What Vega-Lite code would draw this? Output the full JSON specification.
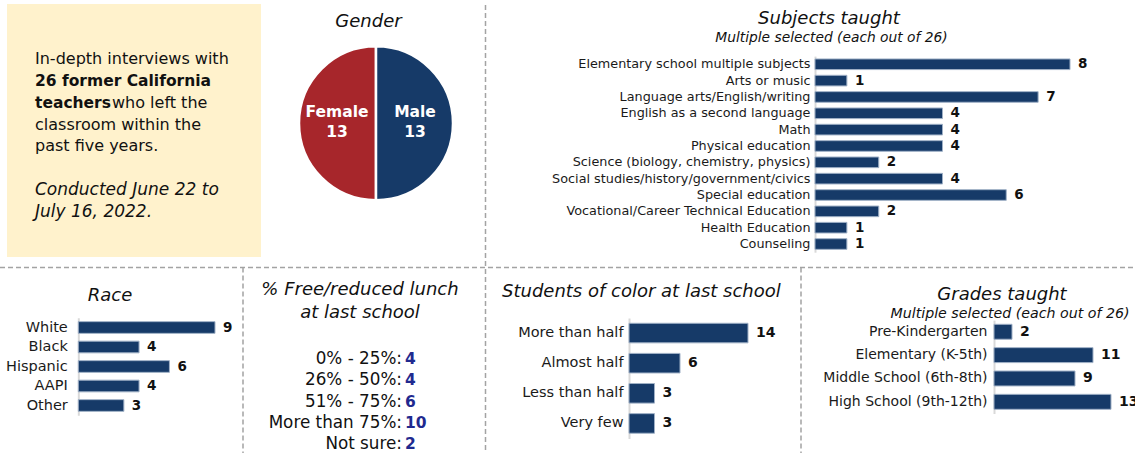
{
"$schema": "https://vega.github.io/schema/vega-lite/v6.json",
"width": 1135, "height": 453, "autosize": "none", "padding": 0, "background": "#ffffff",
"config": {"view": {"stroke": null}, "font": "DejaVu Sans"},
"resolve": {"scale": {"x": "independent", "y": "independent"}},
"layer": [
 {
  "data": {"values": [{}]},
  "layer": [
   {"mark": {"type": "rect", "fill": "#fff2cc"},
    "encoding": {"x": {"datum": 7, "scale": {"domain": [0, 1135], "range": [0, 1135], "nice": false, "zero": false}, "axis": null}, "x2": {"datum": 261},
                 "y": {"datum": 4, "scale": {"domain": [0, 453], "range": [0, 453], "nice": false, "zero": false}, "axis": null}, "y2": {"datum": 257}}},
   {"mark": {"type": "rule", "color": "#a3a3a3", "strokeDash": [5, 3], "strokeWidth": 1.5},
    "encoding": {"x": {"datum": 485.5, "scale": {"domain": [0, 1135], "range": [0, 1135], "nice": false, "zero": false}, "axis": null},
                 "y": {"datum": 5, "scale": {"domain": [0, 453], "range": [0, 453], "nice": false, "zero": false}, "axis": null}, "y2": {"datum": 453}}},
   {"mark": {"type": "rule", "color": "#a3a3a3", "strokeDash": [5, 3], "strokeWidth": 1.5},
    "encoding": {"x": {"datum": 0, "scale": {"domain": [0, 1135], "range": [0, 1135], "nice": false, "zero": false}, "axis": null}, "x2": {"datum": 1135},
                 "y": {"datum": 267.5, "scale": {"domain": [0, 453], "range": [0, 453], "nice": false, "zero": false}, "axis": null}}},
   {"mark": {"type": "rule", "color": "#a3a3a3", "strokeDash": [5, 3], "strokeWidth": 1.5},
    "encoding": {"x": {"datum": 243, "scale": {"domain": [0, 1135], "range": [0, 1135], "nice": false, "zero": false}, "axis": null},
                 "y": {"datum": 267.5, "scale": {"domain": [0, 453], "range": [0, 453], "nice": false, "zero": false}, "axis": null}, "y2": {"datum": 453}}},
   {"mark": {"type": "rule", "color": "#a3a3a3", "strokeDash": [5, 3], "strokeWidth": 1.5},
    "encoding": {"x": {"datum": 801, "scale": {"domain": [0, 1135], "range": [0, 1135], "nice": false, "zero": false}, "axis": null},
                 "y": {"datum": 267.5, "scale": {"domain": [0, 453], "range": [0, 453], "nice": false, "zero": false}, "axis": null}, "y2": {"datum": 453}}},
   {"mark": {"type": "text", "text": "Gender", "fontSize": 18, "fontStyle": "italic", "align": "center", "baseline": "alphabetic", "color": "#111111"},
    "encoding": {"x": {"datum": 368.5, "scale": {"domain": [0, 1135], "range": [0, 1135], "nice": false, "zero": false}, "axis": null},
                 "y": {"datum": 27.3, "scale": {"domain": [0, 453], "range": [0, 453], "nice": false, "zero": false}, "axis": null}}},
   {"mark": {"type": "text", "text": "Subjects taught", "fontSize": 18, "fontStyle": "italic", "align": "center", "baseline": "alphabetic", "color": "#111111"},
    "encoding": {"x": {"datum": 829, "scale": {"domain": [0, 1135], "range": [0, 1135], "nice": false, "zero": false}, "axis": null},
                 "y": {"datum": 24, "scale": {"domain": [0, 453], "range": [0, 453], "nice": false, "zero": false}, "axis": null}}},
   {"mark": {"type": "text", "text": "Multiple selected (each out of 26)", "fontSize": 13.8, "fontStyle": "italic", "align": "center", "baseline": "alphabetic", "color": "#111111"},
    "encoding": {"x": {"datum": 831.5, "scale": {"domain": [0, 1135], "range": [0, 1135], "nice": false, "zero": false}, "axis": null},
                 "y": {"datum": 41.5, "scale": {"domain": [0, 453], "range": [0, 453], "nice": false, "zero": false}, "axis": null}}},
   {"mark": {"type": "text", "text": "Race", "fontSize": 18, "fontStyle": "italic", "align": "center", "baseline": "alphabetic", "color": "#111111"},
    "encoding": {"x": {"datum": 110, "scale": {"domain": [0, 1135], "range": [0, 1135], "nice": false, "zero": false}, "axis": null},
                 "y": {"datum": 301, "scale": {"domain": [0, 453], "range": [0, 453], "nice": false, "zero": false}, "axis": null}}},
   {"mark": {"type": "text", "text": ["% Free/reduced lunch", "at last school"], "lineHeight": 23.3, "fontSize": 18, "fontStyle": "italic", "align": "center", "baseline": "alphabetic", "color": "#111111"},
    "encoding": {"x": {"datum": 360, "scale": {"domain": [0, 1135], "range": [0, 1135], "nice": false, "zero": false}, "axis": null},
                 "y": {"datum": 295, "scale": {"domain": [0, 453], "range": [0, 453], "nice": false, "zero": false}, "axis": null}}},
   {"mark": {"type": "text", "text": "Students of color at last school", "fontSize": 18, "fontStyle": "italic", "align": "center", "baseline": "alphabetic", "color": "#111111"},
    "encoding": {"x": {"datum": 641.4, "scale": {"domain": [0, 1135], "range": [0, 1135], "nice": false, "zero": false}, "axis": null},
                 "y": {"datum": 297, "scale": {"domain": [0, 453], "range": [0, 453], "nice": false, "zero": false}, "axis": null}}},
   {"mark": {"type": "text", "text": "Grades taught", "fontSize": 18, "fontStyle": "italic", "align": "center", "baseline": "alphabetic", "color": "#111111"},
    "encoding": {"x": {"datum": 1002, "scale": {"domain": [0, 1135], "range": [0, 1135], "nice": false, "zero": false}, "axis": null},
                 "y": {"datum": 300, "scale": {"domain": [0, 453], "range": [0, 453], "nice": false, "zero": false}, "axis": null}}},
   {"mark": {"type": "text", "text": "Multiple selected (each out of 26)", "fontSize": 14.2, "fontStyle": "italic", "align": "center", "baseline": "alphabetic", "color": "#111111"},
    "encoding": {"x": {"datum": 1010, "scale": {"domain": [0, 1135], "range": [0, 1135], "nice": false, "zero": false}, "axis": null},
                 "y": {"datum": 318.3, "scale": {"domain": [0, 453], "range": [0, 453], "nice": false, "zero": false}, "axis": null}}},
   {
    "data": {"values": [{"gender": "Female", "count": 13}, {"gender": "Male", "count": 13}]},
    "encoding": {
     "theta": {"field": "count", "type": "quantitative", "stack": true},
     "order": {"field": "gender", "sort": "descending"},
     "x": {"datum": 376, "scale": {"domain": [0, 1135], "range": [0, 1135], "nice": false, "zero": false}, "axis": null},
     "y": {"datum": 123.3, "scale": {"domain": [0, 453], "range": [0, 453], "nice": false, "zero": false}, "axis": null}
    },
    "layer": [
     {"mark": {"type": "arc", "outerRadius": 77, "stroke": "#ffffff", "strokeWidth": 2.5},
      "encoding": {"color": {"field": "gender", "type": "nominal", "scale": {"domain": ["Female", "Male"], "range": ["#a7262b", "#163a68"]}, "legend": null}}},
     {"mark": {"type": "text", "radius": 39, "dy": -6, "fontSize": 15.5, "fontWeight": "bold", "color": "#ffffff", "align": "center", "baseline": "alphabetic"},
      "encoding": {"text": {"field": "gender"}}},
     {"mark": {"type": "text", "radius": 39, "dy": 14, "fontSize": 15.5, "fontWeight": "bold", "color": "#ffffff", "align": "center", "baseline": "alphabetic"},
      "encoding": {"text": {"field": "count"}}}
    ]
   }
  ]
 },
 {
  "layer": [
   {"data": {"values": [{"line": 1, "text": "In-depth interviews with"}, {"line": 4, "text": "classroom within the"}, {"line": 5, "text": "past five years."}]},
    "mark": {"type": "text", "fontSize": 16, "align": "left", "baseline": "alphabetic", "color": "#111111"},
    "encoding": {"x": {"datum": 35, "scale": {"domain": [0, 1135], "range": [0, 1135], "nice": false, "zero": false}, "axis": null},
                 "y": {"field": "line", "type": "quantitative", "scale": {"domain": [1, 8], "range": [64, 217], "nice": false, "zero": false}, "axis": null},
                 "text": {"field": "text"}}},
   {"data": {"values": [{"line": 2, "text": "26 former California"}, {"line": 3, "text": "teachers"}]},
    "mark": {"type": "text", "fontSize": 15.5, "fontWeight": "bold", "align": "left", "baseline": "alphabetic", "color": "#111111"},
    "encoding": {"x": {"datum": 35, "scale": {"domain": [0, 1135], "range": [0, 1135], "nice": false, "zero": false}, "axis": null},
                 "y": {"field": "line", "type": "quantitative", "scale": {"domain": [1, 8], "range": [64, 217], "nice": false, "zero": false}, "axis": null},
                 "text": {"field": "text"}}},
   {"data": {"values": [{"line": 3, "text": "who left the"}]},
    "mark": {"type": "text", "fontSize": 16, "align": "left", "baseline": "alphabetic", "color": "#111111"},
    "encoding": {"x": {"datum": 112, "scale": {"domain": [0, 1135], "range": [0, 1135], "nice": false, "zero": false}, "axis": null},
                 "y": {"field": "line", "type": "quantitative", "scale": {"domain": [1, 8], "range": [64, 217], "nice": false, "zero": false}, "axis": null},
                 "text": {"field": "text"}}},
   {"data": {"values": [{"line": 7, "text": "Conducted June 22 to"}, {"line": 8, "text": "July 16, 2022."}]},
    "mark": {"type": "text", "fontSize": 17, "fontStyle": "italic", "align": "left", "baseline": "alphabetic", "color": "#111111"},
    "encoding": {"x": {"datum": 35, "scale": {"domain": [0, 1135], "range": [0, 1135], "nice": false, "zero": false}, "axis": null},
                 "y": {"field": "line", "type": "quantitative", "scale": {"domain": [1, 8], "range": [64, 217], "nice": false, "zero": false}, "axis": null},
                 "text": {"field": "text"}}}
  ]
 },
 {
  "data": {"values": [
   {"bracket": "0% - 25%:", "count": 4},
   {"bracket": "26% - 50%:", "count": 4},
   {"bracket": "51% - 75%:", "count": 6},
   {"bracket": "More than 75%:", "count": 10},
   {"bracket": "Not sure:", "count": 2}
  ]},
  "encoding": {
   "x": {"datum": 403, "scale": {"domain": [0, 1135], "range": [0, 1135], "nice": false, "zero": false}, "axis": null},
   "y": {"field": "bracket", "type": "nominal", "sort": null, "scale": {"type": "point", "range": [363.8, 449.2], "padding": 0}, "axis": null}
  },
  "layer": [
   {"mark": {"type": "text", "fontSize": 16.8, "align": "right", "baseline": "alphabetic", "dx": -1, "color": "#111111"},
    "encoding": {"text": {"field": "bracket"}}},
   {"mark": {"type": "text", "fontSize": 15.5, "fontWeight": "bold", "align": "left", "baseline": "alphabetic", "dx": 2, "color": "#1f2a8f"},
    "encoding": {"text": {"field": "count"}}}
  ]
 },
 {
  "data": {"values": [
   {"subject": "Elementary school multiple subjects", "count": 8},
   {"subject": "Arts or music", "count": 1},
   {"subject": "Language arts/English/writing", "count": 7},
   {"subject": "English as a second language", "count": 4},
   {"subject": "Math", "count": 4},
   {"subject": "Physical education", "count": 4},
   {"subject": "Science (biology, chemistry, physics)", "count": 2},
   {"subject": "Social studies/history/government/civics", "count": 4},
   {"subject": "Special education", "count": 6},
   {"subject": "Vocational/Career Technical Education", "count": 2},
   {"subject": "Health Education", "count": 1},
   {"subject": "Counseling", "count": 1}
  ]},
  "encoding": {
   "y": {"field": "subject", "type": "nominal", "sort": null,
         "scale": {"range": [56.1, 252.2], "paddingInner": 0.35, "paddingOuter": 0.175},
         "axis": {"orient": "left", "offset": -815, "title": null, "ticks": false, "tickSize": 0, "grid": false, "labelPadding": 5, "labelFontSize": 12.8, "labelLimit": 0, "labelOverlap": false, "labelColor": "#1a1a1a", "domainColor": "#d9d9d9", "domainWidth": 2}},
   "x": {"field": "count", "type": "quantitative", "scale": {"domain": [0, 8], "range": [815, 1070], "nice": false}, "axis": null}
  },
  "layer": [
   {"mark": {"type": "bar", "fill": "#163a68", "stroke": "#9fb0c6", "strokeWidth": 1}},
   {"mark": {"type": "text", "align": "left", "baseline": "middle", "dx": 8, "fontSize": 13.5, "fontWeight": "bold", "color": "#111111"},
    "encoding": {"text": {"field": "count"}}}
  ]
 },
 {
  "data": {"values": [
   {"race": "White", "count": 9},
   {"race": "Black", "count": 4},
   {"race": "Hispanic", "count": 6},
   {"race": "AAPI", "count": 4},
   {"race": "Other", "count": 3}
  ]},
  "encoding": {
   "y": {"field": "race", "type": "nominal", "sort": null,
         "scale": {"range": [317.75, 415.25], "paddingInner": 0.4, "paddingOuter": 0.2},
         "axis": {"orient": "left", "offset": -78.3, "title": null, "ticks": false, "tickSize": 0, "grid": false, "labelPadding": 11, "labelFontSize": 14.5, "labelLimit": 0, "labelOverlap": false, "labelColor": "#1a1a1a", "domainColor": "#d9d9d9", "domainWidth": 2}},
   "x": {"field": "count", "type": "quantitative", "scale": {"domain": [0, 9], "range": [78.3, 215], "nice": false}, "axis": null}
  },
  "layer": [
   {"mark": {"type": "bar", "fill": "#163a68", "stroke": "#9fb0c6", "strokeWidth": 1}},
   {"mark": {"type": "text", "align": "left", "baseline": "middle", "dx": 8, "fontSize": 13.5, "fontWeight": "bold", "color": "#111111"},
    "encoding": {"text": {"field": "count"}}}
  ]
 },
 {
  "data": {"values": [
   {"share": "More than half", "count": 14},
   {"share": "Almost half", "count": 6},
   {"share": "Less than half", "count": 3},
   {"share": "Very few", "count": 3}
  ]},
  "encoding": {
   "y": {"field": "share", "type": "nominal", "sort": null,
         "scale": {"range": [318, 438.5], "paddingInner": 0.35, "paddingOuter": 0.175},
         "axis": {"orient": "left", "offset": -629, "title": null, "ticks": false, "tickSize": 0, "grid": false, "labelPadding": 6, "labelFontSize": 14.5, "labelLimit": 0, "labelOverlap": false, "labelColor": "#1a1a1a", "domainColor": "#d9d9d9", "domainWidth": 2}},
   "x": {"field": "count", "type": "quantitative", "scale": {"domain": [0, 14], "range": [629, 748], "nice": false}, "axis": null}
  },
  "layer": [
   {"mark": {"type": "bar", "fill": "#163a68", "stroke": "#9fb0c6", "strokeWidth": 1}},
   {"mark": {"type": "text", "align": "left", "baseline": "middle", "dx": 8, "fontSize": 14, "fontWeight": "bold", "color": "#111111"},
    "encoding": {"text": {"field": "count"}}}
  ]
 },
 {
  "data": {"values": [
   {"grade": "Pre-Kindergarten", "count": 2},
   {"grade": "Elementary (K-5th)", "count": 11},
   {"grade": "Middle School (6th-8th)", "count": 9},
   {"grade": "High School (9th-12th)", "count": 13}
  ]},
  "encoding": {
   "y": {"field": "grade", "type": "nominal", "sort": null,
         "scale": {"range": [320.1, 413.5], "paddingInner": 0.36, "paddingOuter": 0.18},
         "axis": {"orient": "left", "offset": -994, "title": null, "ticks": false, "tickSize": 0, "grid": false, "labelPadding": 7, "labelFontSize": 14, "labelLimit": 0, "labelOverlap": false, "labelColor": "#1a1a1a", "domainColor": "#d9d9d9", "domainWidth": 2}},
   "x": {"field": "count", "type": "quantitative", "scale": {"domain": [0, 13], "range": [994, 1111], "nice": false}, "axis": null}
  },
  "layer": [
   {"mark": {"type": "bar", "fill": "#163a68", "stroke": "#9fb0c6", "strokeWidth": 1}},
   {"mark": {"type": "text", "align": "left", "baseline": "middle", "dx": 8, "fontSize": 14, "fontWeight": "bold", "color": "#111111"},
    "encoding": {"text": {"field": "count"}}}
  ]
 }
]
}
